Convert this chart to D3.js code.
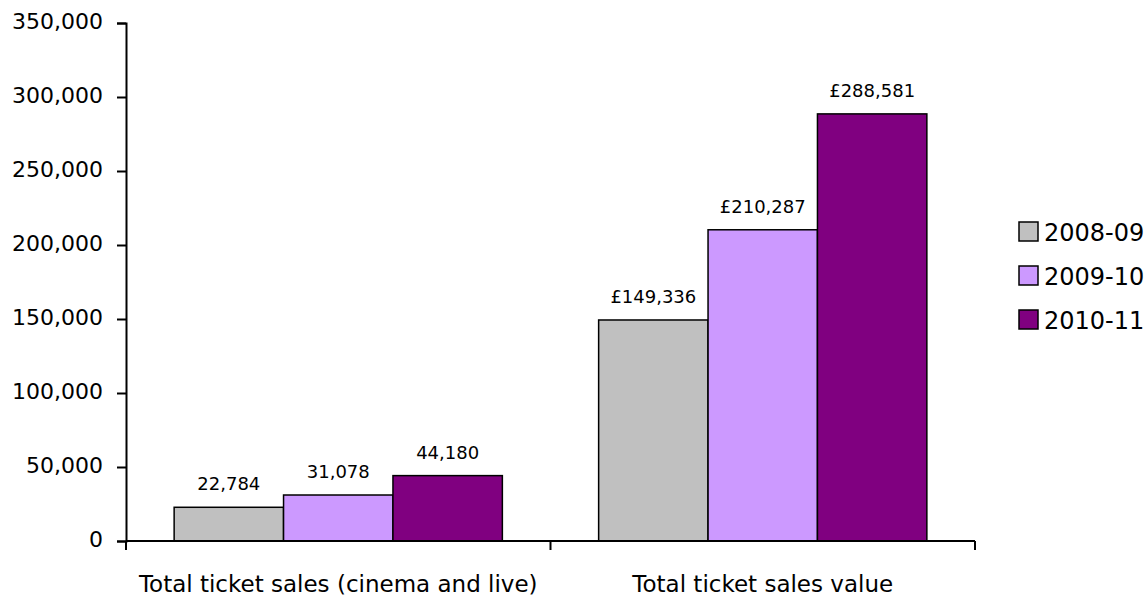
<!DOCTYPE html>
<html>
<head>
<meta charset="utf-8">
<script src="https://cdn.jsdelivr.net/npm/d3@7"></script>
<style>
  html, body { margin: 0; padding: 0; background: #fff; }
  svg { display: block; font-family: "DejaVu Sans", Verdana, sans-serif; }
</style>
</head>
<body>
<svg id="chart" width="1148" height="601"></svg>
<script>
// Ticket sales by year, two measures
const categories = ["Total ticket sales (cinema and live)", "Total ticket sales value"];
const seriesNames = ["2008-09", "2009-10", "2010-11"];
const sales2008 = [22784, 149336];
const sales2009 = [31078, 210287];
const sales2010 = [44180, 288581];
const labelPrefix = ["", "£"];
const yTicks = [0, 50000, 100000, 150000, 200000, 250000, 300000, 350000];
const colors = ["#C0C0C0", "#CC99FF", "#800080"];

const seriesValues = [sales2008, sales2009, sales2010];
const rows = categories.map((c, i) => ({
  category: c,
  prefix: labelPrefix[i],
  values: seriesNames.map((s, j) => ({ series: s, value: seriesValues[j][i], color: colors[j] }))
}));

const svg = d3.select("#chart");
const plotLeft = 126, plotRight = 975, plotTop = 23, plotBottom = 541;

const x = d3.scaleBand().domain(categories).range([plotLeft, plotRight]).padding(0);
const xInner = d3.scaleBand().domain(seriesNames)
  .range([0, x.bandwidth()]).paddingInner(0).paddingOuter(0.44);
const y = d3.scaleLinear().domain([0, 350000]).range([plotBottom, plotTop]);

const fmt = d3.format(",");

// bars
const groups = svg.append("g").selectAll("g")
  .data(rows).join("g")
  .attr("transform", d => `translate(${x(d.category)},0)`);

groups.selectAll("rect")
  .data(d => d.values)
  .join("rect")
  .attr("x", d => xInner(d.series))
  .attr("y", d => y(d.value))
  .attr("width", xInner.bandwidth())
  .attr("height", d => y(0) - y(d.value))
  .attr("fill", d => d.color)
  .attr("stroke", "#000")
  .attr("stroke-width", 1.5);

// value labels
groups.selectAll("text.val")
  .data(d => d.values.map(v => ({ ...v, prefix: d.prefix })))
  .join("text")
  .attr("class", "val")
  .attr("x", d => xInner(d.series) + xInner.bandwidth() / 2)
  .attr("y", d => y(d.value) - 17)
  .attr("text-anchor", "middle")
  .attr("font-size", 18)
  .attr("fill", "#000")
  .text(d => d.prefix + fmt(d.value));

// y axis
const yAxis = svg.append("g")
  .attr("transform", `translate(${plotLeft},0)`)
  .call(d3.axisLeft(y).tickValues(yTicks).tickSize(9).tickPadding(14).tickFormat(fmt));
yAxis.select(".domain").attr("stroke", "#000").attr("stroke-width", 2);
yAxis.selectAll(".tick line").attr("stroke", "#000").attr("stroke-width", 2);
yAxis.selectAll(".tick text")
  .attr("font-size", 22).attr("font-family", "DejaVu Sans").attr("fill", "#000").attr("dy", "0.25em");

// x axis: ticks at category boundaries
const xAxisG = svg.append("g").attr("transform", `translate(0,${plotBottom})`);
xAxisG.append("line")
  .attr("x1", plotLeft).attr("x2", plotRight).attr("y1", 0).attr("y2", 0)
  .attr("stroke", "#000").attr("stroke-width", 2);
const boundaries = categories.map(c => x(c)).concat([x(categories[categories.length - 1]) + x.bandwidth()]);
xAxisG.selectAll("line.tk")
  .data(boundaries).join("line")
  .attr("class", "tk")
  .attr("x1", d => d).attr("x2", d => d)
  .attr("y1", 0).attr("y2", 9)
  .attr("stroke", "#000").attr("stroke-width", 2);
xAxisG.selectAll("text")
  .data(categories).join("text")
  .attr("x", d => x(d) + x.bandwidth() / 2)
  .attr("y", 51)
  .attr("text-anchor", "middle")
  .attr("font-size", 23)
  .attr("fill", "#000")
  .text(d => d);

// legend
const legend = svg.append("g").attr("transform", "translate(1019,222)");
const items = legend.selectAll("g")
  .data(seriesNames.map((s, i) => ({ s, c: colors[i] })))
  .join("g")
  .attr("transform", (d, i) => `translate(0,${i * 44})`);
items.append("rect")
  .attr("width", 19).attr("height", 19)
  .attr("fill", d => d.c).attr("stroke", "#000").attr("stroke-width", 1.5);
items.append("text")
  .attr("x", 25).attr("y", 10).attr("dy", "0.36em")
  .attr("font-size", 24).attr("fill", "#000")
  .text(d => d.s);
</script>
</body>
</html>
